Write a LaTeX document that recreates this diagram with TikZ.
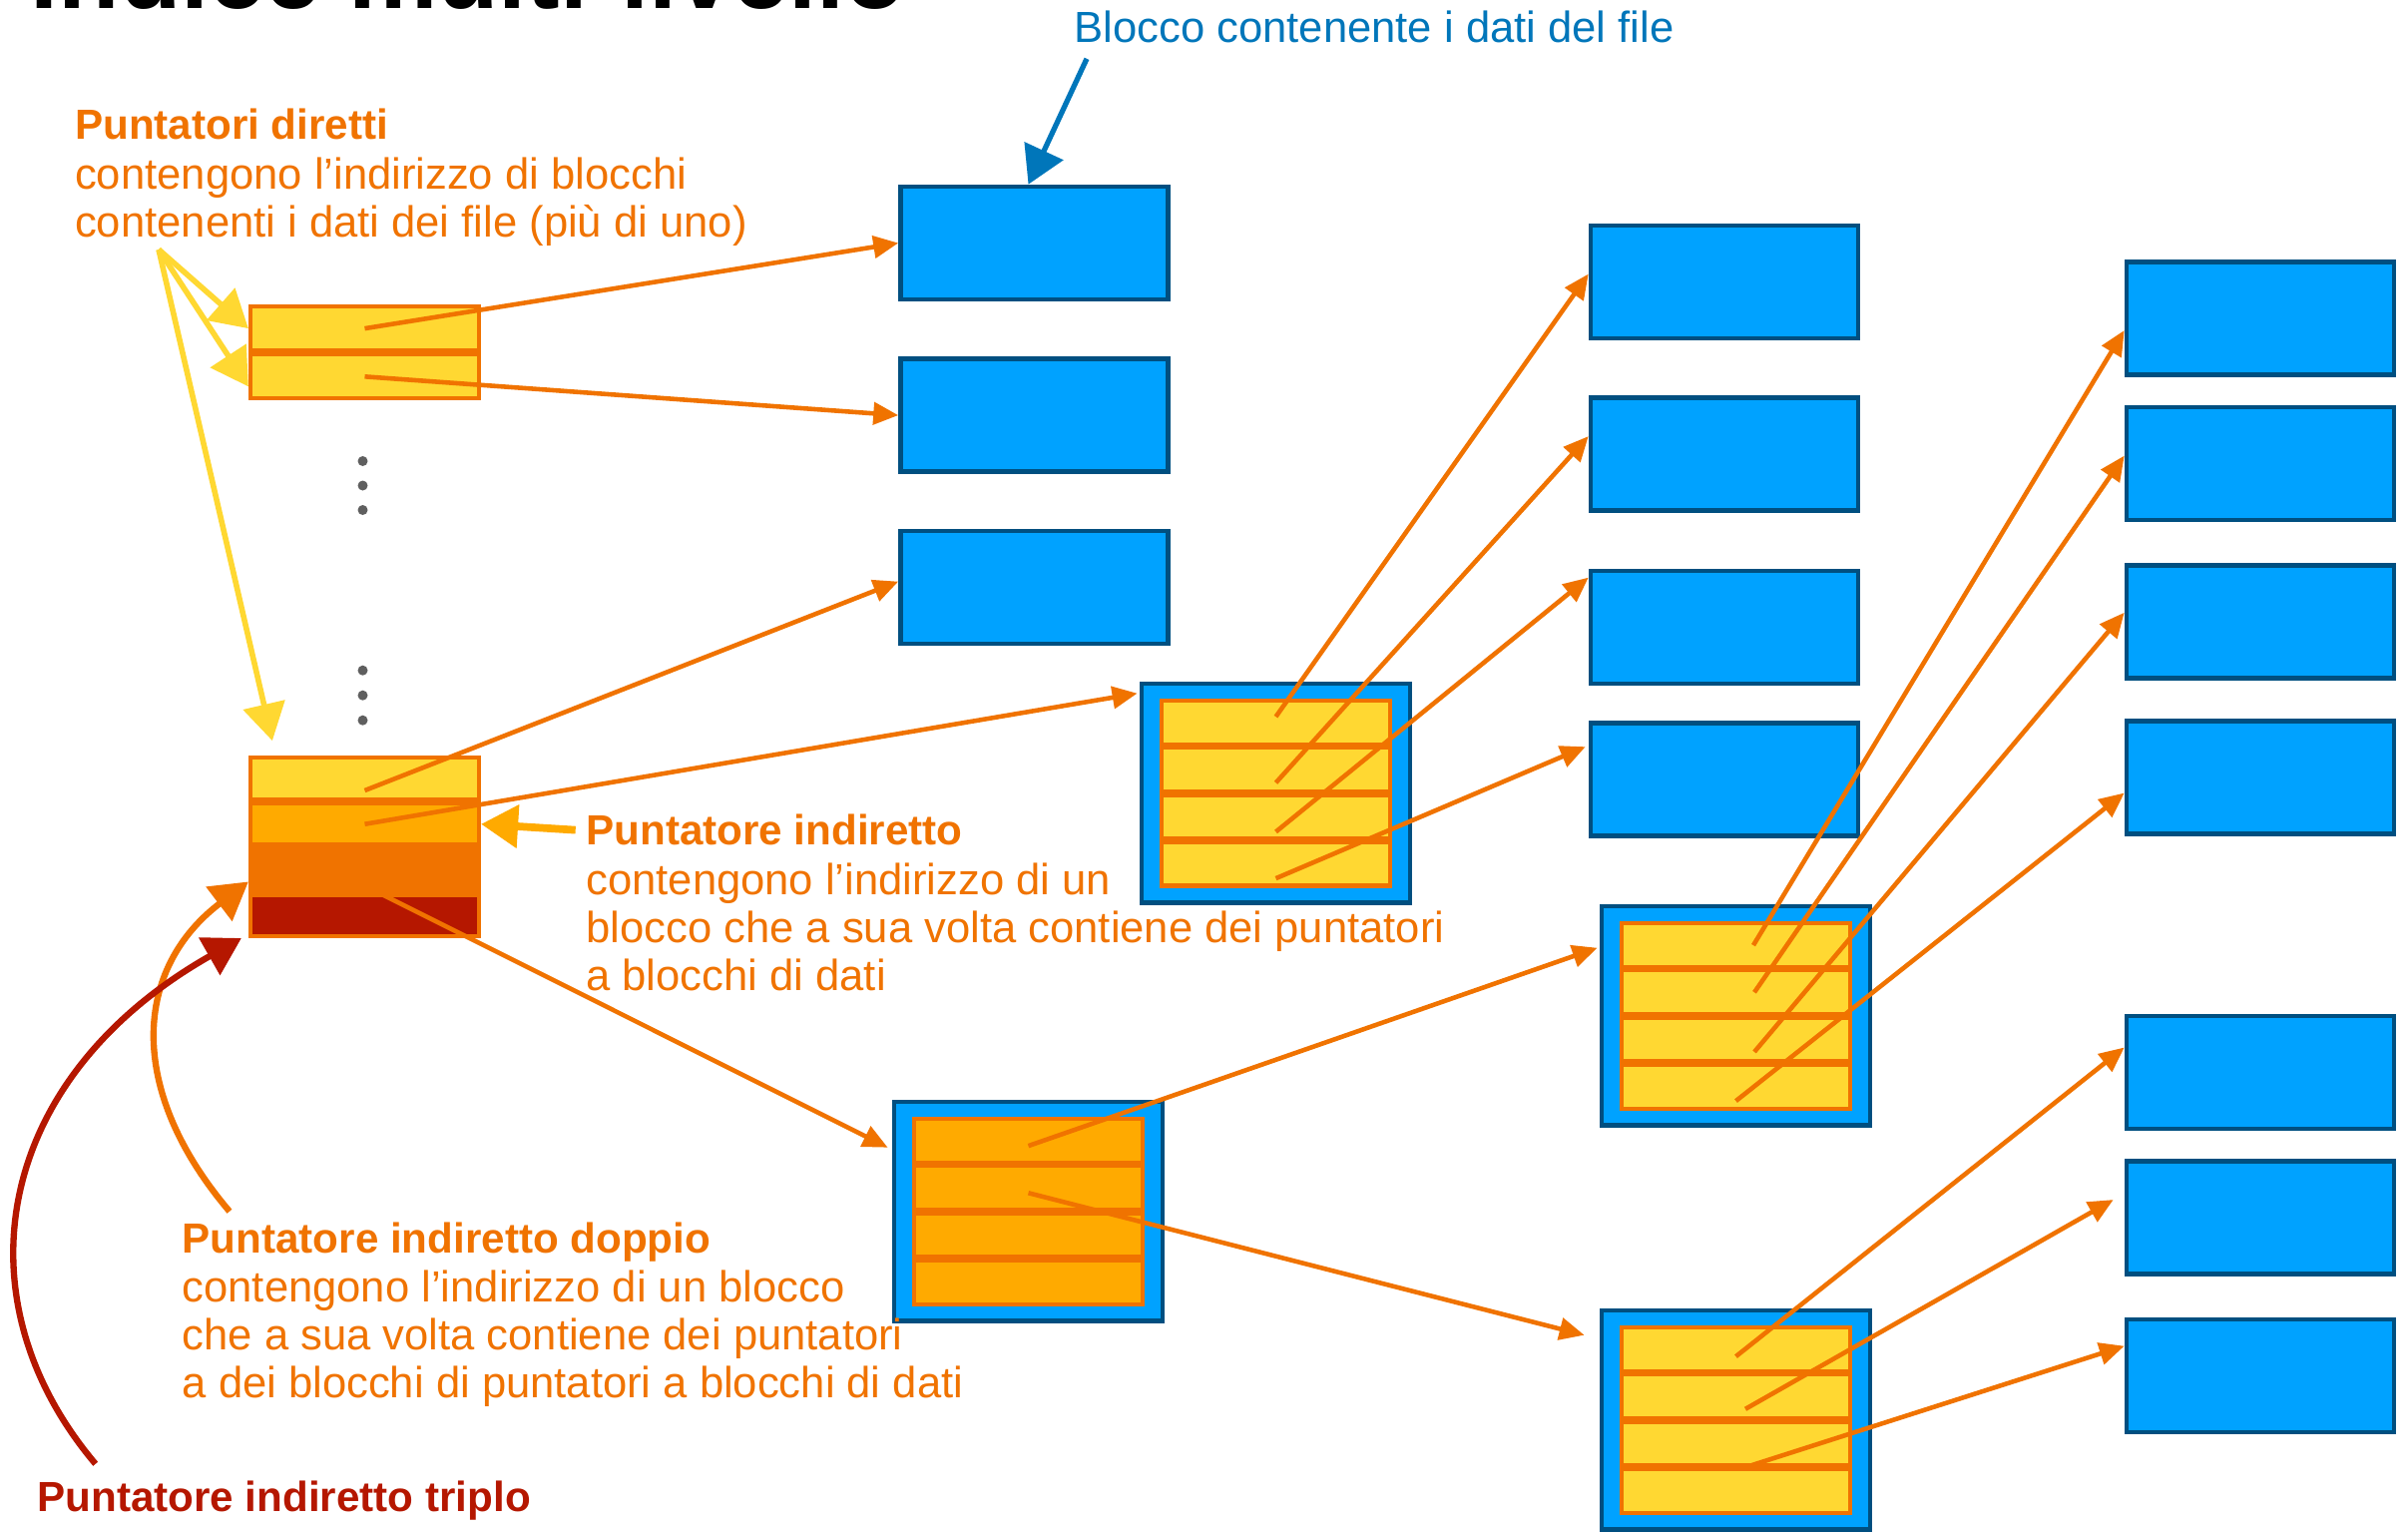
\documentclass[tikz,border=0pt]{standalone}
\usepackage{fontspec}
\setmainfont{Liberation Sans}
\usetikzlibrary{arrows.meta, positioning, fit, backgrounds}

\definecolor{blkfill}{RGB}{0,162,255}
\definecolor{blkline}{RGB}{0,79,128}
\definecolor{ptryellow}{RGB}{255,216,50}
\definecolor{ptramber}{RGB}{255,170,0}
\definecolor{ptrorange}{RGB}{240,115,0}
\definecolor{ptrred}{RGB}{181,23,0}
\definecolor{lblblue}{RGB}{0,118,186}
\definecolor{dotgray}{RGB}{95,95,95}
\newcommand{\lblfont}{\fontsize{12.4}{13.6}\selectfont}
\newcommand{\hdrfont}{\fontsize{12}{13.6}\selectfont\bfseries}

\begin{document}
\begin{tikzpicture}[
    datablk/.style={draw=blkline, fill=blkfill, line width=1.3pt, minimum width=2.68cm,
                    minimum height=1.13cm, inner sep=0pt},
    ptrcell/.style={draw=ptrorange, fill=ptryellow, line width=1.2pt, minimum width=2.29cm,
                    minimum height=0.44cm, inner sep=0pt},
    inocell/.style={ptrcell, minimum height=0.415cm},
    ptrframe/.style={draw=blkline, fill=blkfill, line width=1.3pt, inner xsep=0.18cm, inner ysep=0.15cm},
    arr/.style={draw=ptrorange, line width=1.3pt, -{Triangle[length=0.25cm, width=0.22cm]}},
    hand/.style={line width=1.6pt, -{Triangle[length=0.37cm, width=0.42cm]}},
    hdr/.style={font=\hdrfont, text=ptrorange, inner sep=0pt, anchor=base west},
    lbl/.style={font=\lblfont, text=ptrorange, inner sep=0pt, anchor=north west, align=left},
]
\useasboundingbox (0,0) rectangle (24.13,-15.35);
% === Title (cut by the top edge) ===
\node[font=\fontsize{28.6}{34}\selectfont\bfseries, inner sep=0pt, anchor=base west] (title) at (0.30,-0.08) {Indice multi-livello};
% === i-node: direct pointers, dots, indirect pointers ===
\node[ptrcell] (dir1) at (3.655,-3.291) {};
\node[ptrcell, below=0pt of dir1] (dir2) {};
\foreach \y in {-4.62,-4.865,-5.11,-6.717,-6.967,-7.217}
  \fill[dotgray] (3.635,\y) circle (0.05);
\node[inocell] (ind1) at (3.655,-7.80) {};
\node[inocell, fill=ptramber, below=0pt of ind1] (ind2) {};
\node[inocell, fill=ptrorange, below=0pt of ind2] (ind3) {};
\node[inocell, fill=ptrred, below=0pt of ind3] (ind4) {};
% === Data blocks ===
\node[datablk] (b1) at (10.365,-2.435) {};
\node[datablk, below=0.55 of b1] (b2) {};
\node[datablk, below=0.55 of b2] (b3) {};
\node[datablk] (c2a) at (17.28,-2.825) {};
\node[datablk, below=0.55 of c2a] (c2b) {};
\node[datablk, below=0.56 of c2b] (c2c) {};
\node[datablk, below=0.35 of c2c] (c2d) {};
\node[datablk] (c3a) at (22.65,-3.19) {};
\node[datablk, below=0.28 of c3a] (c3b) {};
\node[datablk, below=0.41 of c3b] (c3c) {};
\node[datablk, below=0.38 of c3c] (c3d) {};
\node[datablk] (c3e) at (22.65,-10.745) {};
\node[datablk, below=0.28 of c3e] (c3f) {};
\node[datablk, below=0.41 of c3f] (c3g) {};
% === Pointer blocks (single indirect, double indirect and its two children) ===
\node[ptrcell] (si1) at (12.785,-7.241) {};
\node[ptrcell, below=-0.3pt of si1] (si2) {};
\node[ptrcell, below=-0.3pt of si2] (si3) {};
\node[ptrcell, below=-0.3pt of si3] (si4) {};
\node[ptrcell, fill=ptramber] (di1) at (10.305,-11.431) {};
\node[ptrcell, fill=ptramber, below=-0.3pt of di1] (di2) {};
\node[ptrcell, fill=ptramber, below=-0.3pt of di2] (di3) {};
\node[ptrcell, fill=ptramber, below=-0.3pt of di3] (di4) {};
\node[ptrcell] (la1) at (17.395,-9.471) {};
\node[ptrcell, below=-0.3pt of la1] (la2) {};
\node[ptrcell, below=-0.3pt of la2] (la3) {};
\node[ptrcell, below=-0.3pt of la3] (la4) {};
\node[ptrcell] (lb1) at (17.395,-13.521) {};
\node[ptrcell, below=-0.3pt of lb1] (lb2) {};
\node[ptrcell, below=-0.3pt of lb2] (lb3) {};
\node[ptrcell, below=-0.3pt of lb3] (lb4) {};
\begin{scope}[on background layer]
\node[ptrframe, fit=(si1)(si4)] (siblk) {};
\node[ptrframe, fit=(di1)(di4)] (diblk) {};
\node[ptrframe, fit=(la1)(la4)] (lablk) {};
\node[ptrframe, fit=(lb1)(lb4)] (lbblk) {};
\end{scope}
% === Labels ===
\node[font=\lblfont, text=lblblue, inner sep=0pt, anchor=base west] (blklbl) at (10.76,-0.427) {Blocco contenente i dati del file};
\node[hdr] (dirhdr) at (0.745,-1.39) {Puntatori diretti};
\node[lbl] (dirtxt) at (0.745,-1.575) {contengono l’indirizzo di blocchi\\contenenti i dati dei file (più di uno)};
\node[hdr] (indhdr) at (5.867,-8.467) {Puntatore indiretto};
\node[lbl] (indtxt) at (5.867,-8.645) {contengono l’indirizzo di un\\blocco che a sua volta contiene dei puntatori\\a blocchi di dati};
\node[hdr] (dblhdr) at (1.82,-12.55) {Puntatore indiretto doppio};
\node[lbl] (dbltxt) at (1.82,-12.725) {contengono l’indirizzo di un blocco\\che a sua volta contiene dei puntatori\\a dei blocchi di puntatori a blocchi di dati};
\node[hdr, text=ptrred] (trphdr) at (0.367,-15.14) {Puntatore indiretto triplo};
% === Callout arrows ===
\coordinate (dirsrc) at (1.59,-2.50);
\draw[hand, ptryellow] (dirsrc) -- (dir1.west);
\draw[hand, ptryellow] (dirsrc) -- ([yshift=-0.1cm]dir2.west);
\draw[hand, ptryellow] (dirsrc) -- ([xshift=0.24cm,yshift=0.15cm]ind1.north west);
\draw[hand, ptramber, line width=2.2pt] ([xshift=-0.1cm]indhdr.west) -- (ind2.east);
\draw[hand, lblblue, line width=1.5pt] ([xshift=0.13cm,yshift=-0.15cm]blklbl.south west) -- ([xshift=-0.06cm]b1.north);
\draw[hand, ptrorange, line width=1.8pt] ([xshift=0.48cm,yshift=0.10cm]dblhdr.north west)
  .. controls (1.25,-10.90) and (1.35,-9.70) .. ([yshift=-0.12cm]ind3.west);
\draw[hand, ptrred, line width=1.8pt] ([xshift=0.59cm,yshift=0.16cm]trphdr.north west)
  .. controls (-0.45,-13.00) and (-0.05,-10.80) .. ([xshift=-0.07cm]ind4.south west);
% === Pointers ===
\draw[arr] (dir1.center) -- (b1.west);
\draw[arr] (dir2.center) -- (b2.west);
\draw[arr] ([yshift=-0.12cm]ind1.center) -- ([yshift=0.06cm]b3.west);
\draw[arr] (ind2.center) -- ([xshift=-0.02cm,yshift=-0.12cm]siblk.north west);
\draw[arr] ([yshift=-0.16cm]ind3.center) -- ([xshift=-0.04cm,yshift=-0.48cm]diblk.north west);
\draw[arr] ([yshift=0.06cm]si1.center) -- ([yshift=0.08cm]c2a.west);
\draw[arr] ([yshift=-0.13cm]si2.center) -- ([yshift=0.18cm]c2b.west);
\draw[arr] ([yshift=-0.15cm]si3.center) -- ([yshift=0.50cm]c2c.west);
\draw[arr] ([yshift=-0.145cm]si4.center) -- ([xshift=-0.03cm,yshift=0.33cm]c2d.west);
\draw[arr] ([yshift=-0.05cm]di1.center) -- ([xshift=-0.02cm,yshift=-0.44cm]lablk.north west);
\draw[arr] ([yshift=-0.05cm]di2.center) -- ([xshift=-0.15cm,yshift=-0.27cm]lbblk.north west);
\draw[arr] ([xshift=0.175cm]la1.center) -- ([yshift=-0.12cm]c3a.west);
\draw[arr] ([xshift=0.185cm]la2.center) -- ([yshift=0.08cm]c3b.west);
\draw[arr] ([xshift=0.185cm,yshift=-0.125cm]la3.center) -- ([yshift=0.094cm]c3c.west);
\draw[arr] ([yshift=-0.145cm]la4.center) -- ([yshift=-0.158cm]c3d.west);
\draw[arr] ([yshift=-0.07cm]lb1.center) -- ([yshift=0.25cm]c3e.west);
\draw[arr] ([xshift=0.095cm,yshift=-0.125cm]lb2.center) -- ([xshift=-0.11cm,yshift=0.18cm]c3f.west);
\draw[arr] ([xshift=0.16cm,yshift=-0.216cm]lb3.center) -- ([yshift=0.30cm]c3g.west);
\end{tikzpicture}
\end{document}
